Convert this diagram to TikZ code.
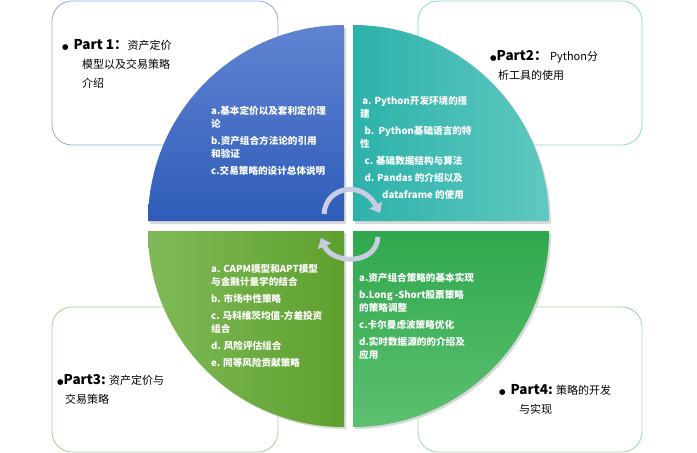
\documentclass[tikz,border=0pt]{standalone}
\usepackage{fontspec}
\setmainfont{Noto Sans CJK SC}
\newfontfamily\dvfont{DejaVu Sans}
\usetikzlibrary{arrows.meta}
\definecolor{bTL}{HTML}{8EA9DB}\definecolor{bTR}{HTML}{8FD8D2}
\definecolor{bBL}{HTML}{A9D18E}\definecolor{bBR}{HTML}{9ED9A8}
\definecolor{arr}{HTML}{C9CDE3}
\begin{document}
\begin{tikzpicture}[x=1pt,y=-1pt,
  outbox/.style={rounded corners=20pt,line width=0.8pt,fill=white},
  inner/.style={text=white,font=\bfseries\fontsize{9.6}{13}\selectfont,align=left,anchor=north west,inner sep=0pt},
  outer/.style={text=black,align=left,anchor=north west,inner sep=0pt,font=\fontsize{11}{19}\selectfont},
  circarrow/.style={draw=arr,line width=5pt,-{Triangle[length=9pt,width=14pt]}}]
\newcommand{\bigbul}{{\dvfont\fontsize{7.5}{7.5}\selectfont ●}}
\newcommand{\pt}[1]{{\bfseries\fontsize{13.5}{19}\selectfont #1}}
\useasboundingbox (0,0) rectangle (697,453);
\draw[outbox,draw=bTL] (52,1) rectangle (278,145);
\draw[outbox,draw=bTR] (418,1) rectangle (642,145);
\draw[outbox,draw=bBL] (52,307) rectangle (278,452);
\draw[outbox,draw=bBR] (418,307) rectangle (642,452);
% shadows
\fill[black!15] (346,224) -- (150,224) arc[start angle=180,end angle=270,radius=196] -- cycle;
\fill[black!15] (355,224) -- (355,28) arc[start angle=270,end angle=360,radius=196] -- cycle;
\fill[black!15] (346,233) -- (346,429) arc[start angle=90,end angle=180,radius=196] -- cycle;
\fill[black!15] (355,233) -- (551,233) arc[start angle=0,end angle=90,radius=196] -- cycle;
% quadrants
\shade[top color={rgb,255:red,96;green,132;blue,210},bottom color={rgb,255:red,46;green,92;blue,184}] (344,221) -- (148,221) arc[start angle=180,end angle=270,radius=196] -- cycle;
\shade[left color={rgb,255:red,44;green,178;blue,170},right color={rgb,255:red,96;green,200;blue,192}] (353,221) -- (353,25) arc[start angle=270,end angle=360,radius=196] -- cycle;
\shade[left color={rgb,255:red,128;green,186;blue,88},right color={rgb,255:red,94;green,160;blue,46}] (344,231) -- (344,427) arc[start angle=90,end angle=180,radius=196] -- cycle;
\shade[top color={rgb,255:red,48;green,168;blue,78},bottom color={rgb,255:red,92;green,192;blue,112}] (353,231) -- (549,231) arc[start angle=0,end angle=90,radius=196] -- cycle;
% arrows
\coordinate (a1) at (324,214); \coordinate (a2) at (380,213);
\draw[circarrow] (a1) .. controls (326,186) and (362,180) .. (a2);
\coordinate (b1) at (378,237); \coordinate (b2) at (321,238);
\draw[circarrow] (b1) .. controls (376,266) and (332,264) .. (b2);
% inner texts
\node[inner] (tl) at (211,106) {a.基本定价以及套利定价理\\论\\[4pt]b.资产组合方法论的引用\\和验证\\[4pt]c.交易策略的设计总体说明};
\node[inner] (tr) at (360,96) {\ a. Python开发环境的搭\\建\\[4pt]\ \ b.\ \ Python基础语言的特\\性\\[4pt]\ \ c. 基础数据结构与算法\\[4pt]\ \ d. Pandas\ 的介绍以及\\[4pt]\hspace{22pt}dataframe\ 的使用};
\node[inner] (bl) at (211,264) {a. CAPM模型和APT模型\\与金融计量学的结合\\[4pt]b. 市场中性策略\\[4pt]c. 马科维茨均值-方差投资\\组合\\[4pt]d. 风险评估组合\\[4pt]e. 同等风险贡献策略};
\node[inner] (br) at (359,273) {a.资产组合策略的基本实现\\[4pt]b.Long -Short股票策略\\的策略调整\\[4pt]c.卡尔曼虑波策略优化\\[4pt]d.实时数据源的的介绍及\\应用};
% outer texts
\node[outer] (o1) at (62,39) {\bigbul\ \ \pt{Part 1：}资产定价\\\hspace{20pt}模型以及交易策略\\\hspace{20pt}介绍};
\node[outer] (o2) at (490,50) {\bigbul\pt{Part2：}\ Python分\\\hspace{8pt}析工具的使用};
\node[outer] (o3) at (57,374) {\bigbul\pt{Part3:} 资产定价与\\\hspace{8pt}交易策略};
\node[outer] (o4) at (499,384) {\bigbul\ \ \pt{Part4:} 策略的开发\\\hspace{20pt}与实现};
\end{tikzpicture}
\end{document}
